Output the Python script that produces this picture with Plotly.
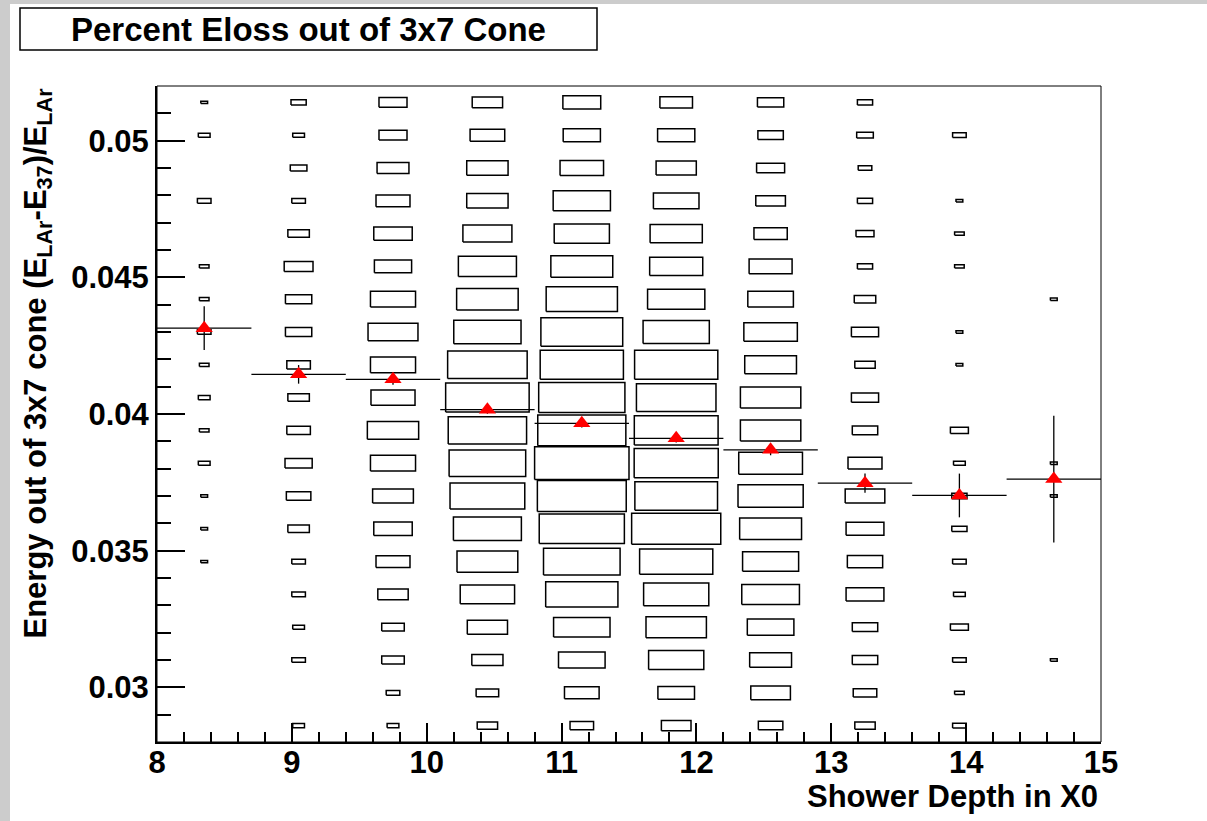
import plotly.graph_objects as go

# Bin edges of the 2D histogram (shower depth in X0 vs. energy fraction)
x_edges = [8.0, 8.7, 9.4, 10.1, 10.8, 11.5, 12.2, 12.9, 13.6, 14.3, 15.0]
y_edges = [0.028, 0.0292, 0.0304, 0.0316, 0.0328, 0.034, 0.0352, 0.0364,
           0.0376, 0.0388, 0.04, 0.0412, 0.0424, 0.0436, 0.0448, 0.046,
           0.0472, 0.0484, 0.0496, 0.0508, 0.052]

# Bin contents per depth bin, listed from the lowest energy bin upward
counts_8p35 = [0, 0, 0, 0, 0, 1, 1, 1, 3, 2, 3, 2, 4, 2, 2, 0, 4, 0, 3, 1]
counts_9p05 = [3, 0, 4, 3, 4, 4, 10, 13, 16, 12, 10, 12, 15, 15, 18, 10, 4, 6, 3, 5]
counts_9p75 = [3, 4, 11, 11, 20, 25, 32, 36, 44, 57, 42, 44, 54, 44, 30, 32, 25, 22, 17, 17]
counts_10p45 = [9, 11, 21, 35, 64, 80, 100, 121, 127, 133, 151, 137, 98, 82, 73, 52, 37, 37, 26, 20]
counts_11p15 = [12, 26, 47, 69, 113, 127, 157, 171, 193, 168, 161, 150, 145, 110, 83, 66, 71, 41, 30, 31]
counts_11p85 = [19, 29, 66, 79, 92, 116, 172, 148, 153, 152, 137, 150, 95, 71, 61, 59, 45, 35, 30, 23]
counts_12p55 = [13, 34, 38, 47, 72, 68, 83, 92, 88, 79, 79, 58, 62, 45, 40, 24, 19, 17, 14, 15]
counts_13p25 = [9, 12, 14, 14, 31, 27, 31, 34, 25, 14, 16, 9, 16, 10, 5, 7, 5, 4, 6, 5]
counts_13p95 = [4, 2, 4, 7, 3, 4, 5, 5, 3, 7, 0, 1, 1, 0, 2, 2, 1, 0, 4, 0]
counts_14p65 = [0, 0, 1, 0, 0, 0, 0, 1, 1, 0, 0, 0, 0, 1, 0, 0, 0, 0, 0, 0]

counts = [counts_8p35, counts_9p05, counts_9p75, counts_10p45, counts_11p15,
          counts_11p85, counts_12p55, counts_13p25, counts_13p95, counts_14p65]

# Profile: mean energy fraction per depth bin and its error
profile_mean = [0.04314, 0.04145, 0.04127, 0.04016, 0.03966,
                0.03911, 0.03869, 0.03747, 0.03702, 0.03762]
profile_err = [0.0008, 0.00034, 0.0002, 0.00015, 0.00015,
               0.00015, 0.0002, 0.00035, 0.0008, 0.00232]

# ROOT-style BOX drawing: box side scales with sqrt(content / max content)
cmax = max(max(c) for c in counts)
bx, by = [], []
for i, col in enumerate(counts):
    xc = 0.5 * (x_edges[i] + x_edges[i + 1])
    hx = 0.5 * (x_edges[i + 1] - x_edges[i])
    for j, c in enumerate(col):
        if c <= 0:
            continue
        yc = 0.5 * (y_edges[j] + y_edges[j + 1])
        hy = 0.5 * (y_edges[j + 1] - y_edges[j])
        s = (c / cmax) ** 0.5
        x0, x1 = xc - hx * s, xc + hx * s
        y0, y1 = yc - hy * s, yc + hy * s
        bx += [x0, x1, x1, x0, x0, None]
        by += [y0, y0, y1, y1, y0, None]

x_centers = [0.5 * (x_edges[i] + x_edges[i + 1]) for i in range(len(x_edges) - 1)]
x_half = [0.5 * (x_edges[i + 1] - x_edges[i]) for i in range(len(x_edges) - 1)]

fig = go.Figure()
fig.add_trace(go.Scatter(
    x=bx, y=by, mode="lines",
    line=dict(color="black", width=1.5),
    hoverinfo="skip", showlegend=False,
))
fig.add_trace(go.Scatter(
    x=x_centers, y=profile_mean, mode="markers",
    marker=dict(symbol="triangle-up", color="red", size=15),
    error_x=dict(type="data", array=x_half, color="black", thickness=1.3, width=0),
    error_y=dict(type="data", array=profile_err, color="black", thickness=1.3, width=0),
    showlegend=False,
))

W, H = 1207, 821
ML, MR, MT, MB = 157, 106, 86, 79
PW, PH = W - ML - MR, H - MT - MB


def px(xpix):
    return (xpix - ML) / PW


def py(ypix):
    return (H - MB - ypix) / PH


FONT = "Liberation Sans, Arial, Helvetica, sans-serif"

axis_common = dict(
    showgrid=False, zeroline=False, showline=True, linecolor="black",
    linewidth=2, ticks="inside", tickcolor="black", tickwidth=1.5,
    tickfont=dict(family=FONT, size=31, color="black", weight="bold"),
)

fig.update_xaxes(
    range=[8, 15], dtick=1, tick0=8, ticklen=19, ticklabelstandoff=-8,
    minor=dict(dtick=0.2, ticks="inside", ticklen=10, tickcolor="black", tickwidth=1.5),
    **axis_common,
)
fig.update_yaxes(
    range=[0.028, 0.052], dtick=0.005, tick0=0.03, ticklen=28, ticklabelstandoff=0,
    minor=dict(dtick=0.001, ticks="inside", ticklen=14, tickcolor="black", tickwidth=1.5),
    **axis_common,
)

fig.update_layout(
    width=W, height=H, autosize=False,
    margin=dict(l=ML, r=MR, t=MT, b=MB),
    paper_bgcolor="#cccccc", plot_bgcolor="white",
    shapes=[
        # white pad area
        dict(type="rect", xref="paper", yref="paper", layer="below",
             x0=px(10), x1=px(W + 5), y0=py(H + 5), y1=py(4),
             fillcolor="white", line=dict(width=0)),
        # frame top/right
        dict(type="rect", xref="paper", yref="paper",
             x0=0, x1=1, y0=0, y1=1, line=dict(color="black", width=1)),
        # title box
        dict(type="rect", xref="paper", yref="paper",
             x0=px(20), x1=px(597), y0=py(50), y1=py(8),
             fillcolor="white", line=dict(color="black", width=1.5)),
    ],
    annotations=[
        dict(text="Percent Eloss out of 3x7 Cone", xref="paper", yref="paper",
             x=px(308), y=py(30), xanchor="center", yanchor="middle",
             showarrow=False,
             font=dict(family=FONT, size=33, color="black", weight="bold")),
        dict(text="Shower Depth in X0", xref="paper", yref="paper",
             x=px(1100), y=py(797), xanchor="right", yanchor="middle",
             showarrow=False,
             font=dict(family=FONT, size=31, color="black", weight="bold")),
        dict(text="Energy out of 3x7 cone (E<sub>LAr</sub>-E<sub>37</sub>)/E<sub>LAr</sub>",
             xref="paper", yref="paper", textangle=-90,
             x=px(37), y=1.0, xanchor="center", yanchor="top",
             showarrow=False,
             font=dict(family=FONT, size=31, color="black", weight="bold")),
    ],
)

fig.write_html("out.html")
